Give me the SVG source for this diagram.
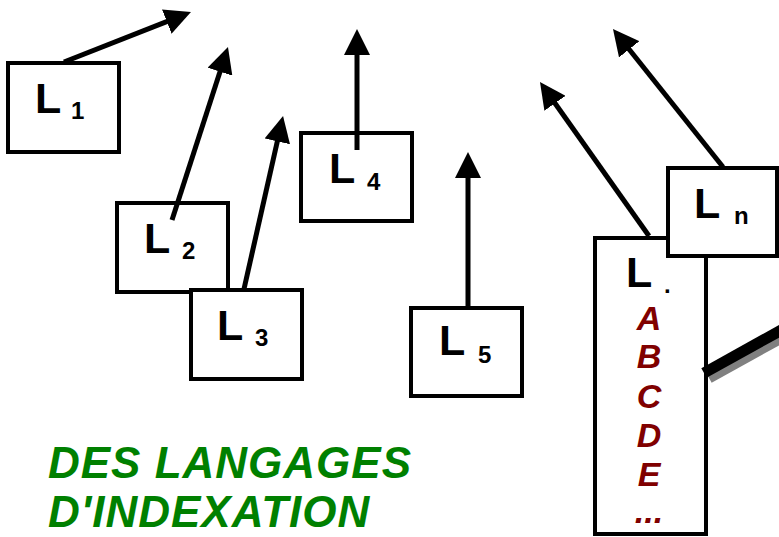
<svg xmlns="http://www.w3.org/2000/svg" width="779" height="537" viewBox="0 0 779 537">
<style>
.box{fill:#fff;stroke:#000;stroke-width:4}
.big{font-family:"Liberation Sans",Arial,sans-serif;font-weight:bold;font-size:43px;fill:#000}
.sub{font-family:"Liberation Sans",Arial,sans-serif;font-weight:bold;font-size:24px;fill:#000}
.let{font-family:"Liberation Sans",Arial,sans-serif;font-weight:bold;font-style:italic;font-size:34px;fill:#800000;text-anchor:middle}
.title{font-family:"Liberation Sans",Arial,sans-serif;font-weight:bold;font-style:italic;font-size:44px;letter-spacing:1px;fill:#008000}
.conn line{stroke:#000;stroke-width:5;marker-end:url(#ah)}
</style>
<defs>
<marker id="ah" viewBox="0 0 26 26" markerWidth="26" markerHeight="26" refX="4" refY="13" orient="auto" markerUnits="userSpaceOnUse">
<path d="M0,0 L26,13 L0,26 z" fill="#000"/>
</marker>
</defs>
<rect width="779" height="537" fill="#fff"/>
<g id="L1"><rect class="box" x="8" y="63" width="111" height="89"/><text class="big" x="35" y="113">L</text><text class="sub" x="71" y="119">1</text></g>
<g id="L2"><rect class="box" x="117" y="203" width="111" height="89"/><text class="big" x="144" y="253">L</text><text class="sub" x="182" y="259">2</text></g>
<g id="L3"><rect class="box" x="191" y="290" width="111" height="89"/><text class="big" x="217" y="340">L</text><text class="sub" x="255" y="346">3</text></g>
<g id="L4"><rect class="box" x="301" y="133" width="111" height="88"/><text class="big" x="329" y="183">L</text><text class="sub" x="367" y="190">4</text></g>
<g id="L5"><rect class="box" x="411" y="308" width="111" height="88"/><text class="big" x="439" y="355">L</text><text class="sub" x="478" y="363">5</text></g>
<g id="Ldot"><rect class="box" x="595" y="238" width="111" height="296"/><text class="big" x="626" y="287">L</text><text class="sub" x="664" y="293">.</text>
<text class="let" x="649" y="330">A</text><text class="let" x="649" y="368">B</text><text class="let" x="649" y="408">C</text><text class="let" x="649" y="447">D</text><text class="let" x="649" y="486">E</text><text class="let" x="649" y="523">...</text></g>
<g id="Ln"><rect class="box" x="668" y="168" width="109" height="88"/><text class="big" x="694" y="218">L</text><text class="sub" x="734" y="224">n</text></g>
<g id="connectors" class="conn">
<line x1="64" y1="62" x2="170.5" y2="20.1"/>
<line x1="172" y1="220" x2="221.2" y2="67.9"/>
<line x1="244" y1="289" x2="278.2" y2="137.5"/>
<line x1="357" y1="150" x2="357" y2="51"/>
<line x1="468" y1="307" x2="468" y2="174"/>
<line x1="649" y1="236" x2="552.7" y2="100"/>
<line x1="723" y1="167" x2="626.7" y2="46.2"/>
</g>
<g id="pointer">
<line x1="709" y1="378" x2="790" y2="333" stroke="#808080" stroke-width="11"/>
<line x1="704" y1="373" x2="785" y2="328" stroke="#000" stroke-width="11"/>
</g>
<g id="title"><text class="title" x="48" y="478">DES LANGAGES</text><text class="title" x="48" y="527">D'INDEXATION</text></g>
</svg>
